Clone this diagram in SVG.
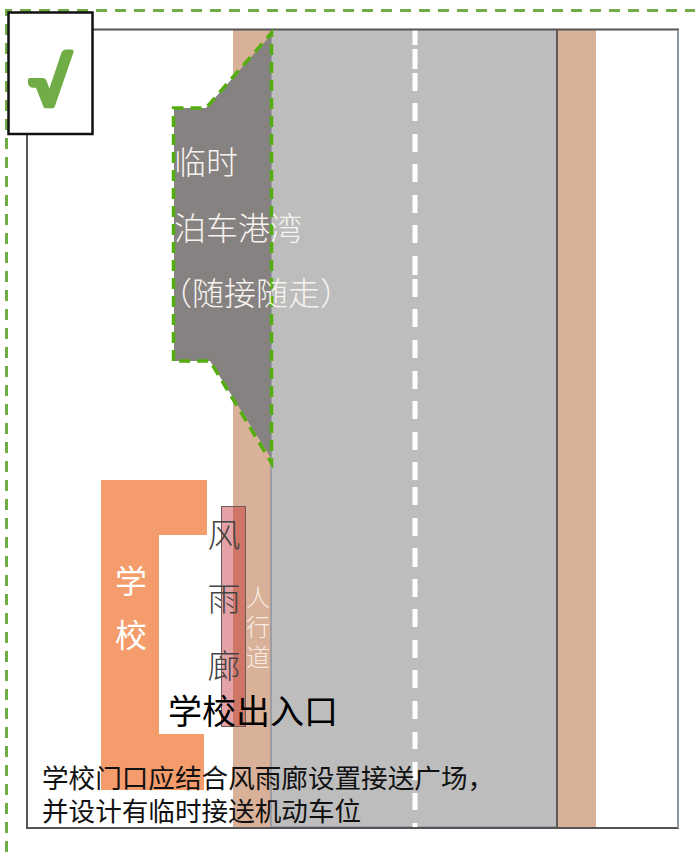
<svg xmlns="http://www.w3.org/2000/svg" width="695" height="852" viewBox="0 0 695 852">
<style>
text{font-family:"Liberation Sans","Noto Sans CJK SC",sans-serif}
.bay{font-size:32px;fill:#f6f3ef;font-weight:300}
.wind{font-size:33px;fill:#444;font-weight:300;text-anchor:middle}
.sch{font-size:32px;fill:#fff;text-anchor:middle}
.walk{font-size:24px;fill:#f8ebe2;text-anchor:middle;font-weight:300}
.note{font-size:26.6px;fill:#111}
.outer{fill:none;stroke:#70ad47;stroke-width:3;stroke-dasharray:11 8}
.baydash{fill:none;stroke:#55ae10;stroke-width:3.500;stroke-dasharray:11 7}
</style>
<rect width="695" height="852" fill="#fff"/>
<g id="road">
<rect x="233" y="30" width="38" height="797" fill="#d9b199"/>
<rect x="557" y="30" width="39" height="797" fill="#d9b199"/>
<rect x="271" y="30" width="286" height="797" fill="#bdbdbd"/>
<line x1="271" y1="30" x2="271" y2="827" stroke="#8e95a3" stroke-width="1.500"/>
<line x1="271" y1="827" x2="557" y2="827" stroke="#8e9ab0" stroke-width="1.500"/>
<line x1="557" y1="30" x2="557" y2="828" stroke="#5f5a58" stroke-width="2"/>
<path d="M415 30V45M415 49V69M415 73V91M415 103V121M415 134V152M415 164V182M415 195V213M415 225V243M415 256V275M415 279V297M415 309V327M415 340V358M415 371V389M415 401V419M415 432V450M415 462V480M415 487V505M415 518V536M415 548V567M415 579V597M415 609V627M415 640V658M415 670V688M415 701V719M415 732V749M415 762V780M415 793V810M415 823V827" fill="none" stroke="#fff" stroke-width="5"/>
</g>
<g id="frame">
<path d="M27 134V828H678V29.500H92" fill="none" stroke="#555" stroke-width="2"/>
<line x1="678" y1="30" x2="678" y2="828" stroke="#8e95a3" stroke-width="2"/>
</g>
<g id="bay">
<path d="M174 108H206L271 35V458L210 361H174Z" fill="#868281"/>
<path d="M173.500 361V108H206L271.500 33V463L210 361H173.500" class="baydash"/>
<text class="bay" x="174" y="174">临时</text>
<text class="bay" x="174" y="240">泊车港湾</text>
<text class="bay" x="160" y="305">（随接随走）</text>
</g>
<g id="school">
<path d="M101 480H207V535H159V734H204V790H101Z" fill="#f49c6b"/>
<text class="sch" x="131" y="593">学</text>
<text class="sch" x="131" y="647">校</text>
</g>
<g id="corridor">
<rect x="221.500" y="506.500" width="11.500" height="220" fill="#e5a2a6"/>
<rect x="233" y="506.500" width="12.500" height="220" fill="#cf7566"/>
<rect x="221.500" y="506.500" width="24" height="220" fill="none" stroke="#6e5a58" stroke-width="1"/>
<text class="wind" x="224" y="547">风</text>
<text class="wind" x="224" y="611">雨</text>
<text class="wind" x="224" y="678">廊</text>
</g>
<g id="walk">
<text class="walk"><tspan x="258" y="606">人</tspan><tspan x="258" y="636">行</tspan><tspan x="258" y="666">道</tspan></text>
</g>
<text x="168" y="724" font-size="34" fill="#000">学校出入口</text>
<g id="note">
<text class="note"><tspan x="42" y="788">学校门口应结合风雨廊设置接送广场，</tspan><tspan x="42" y="821">并设计有临时接送机动车位</tspan></text>
</g>
<path id="outer" d="M6.500 852V10.500H695" class="outer"/>
<g id="check">
<rect x="8.500" y="12.500" width="84" height="121.500" fill="#fff" stroke="#111" stroke-width="2.500"/>
<text transform="translate(29 105.500) scale(1.070 1)" font-size="64" font-weight="700" fill="#70ad47" stroke="#70ad47" stroke-width="4" stroke-linejoin="round" style="font-family:Lato,sans-serif">√</text>
</g>
</svg>
